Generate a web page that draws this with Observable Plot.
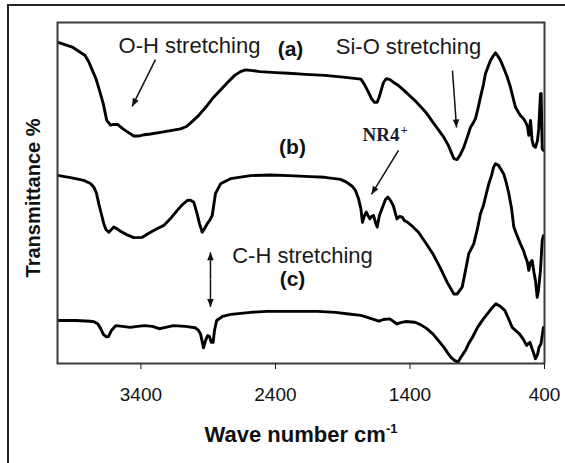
<!DOCTYPE html>
<html>
<head>
<meta charset="utf-8">
<script src="https://cdn.jsdelivr.net/npm/d3@7"></script>
<script src="https://cdn.jsdelivr.net/npm/@observablehq/plot@0.6"></script>
<style>
  html, body { margin: 0; padding: 0; background: #fff; overflow: hidden; }
  #wrap { position: relative; width: 565px; height: 463px; }
  #chart svg { position: absolute; left: 0; top: 0; }
  #box { position: absolute; left: 7px; top: 4px; width: 700px; height: 700px;
         border-left: 2px solid #222; border-top: 2px solid #222; pointer-events: none; }
</style>
</head>
<body>
<div id="wrap"><div id="chart"></div><div id="box"></div></div>
<script>
// FTIR spectra of three samples, offset vertically (arbitrary transmittance units)
const waveA = [4010,3910,3815,3787,3760,3734,3708,3680,3654,3626,3604,3574,3533,3492,3453,3418,3373,3329,3265,3180,3106,3061,3024,2972,2917,2868,2810,2756,2703,2660,2623,2571,2515,2400,2301,2177,2033,1879,1765,1738,1708,1685,1664,1644,1630,1618,1597,1577,1552,1524,1485,1444,1404,1363,1322,1283,1230,1195,1149,1114,1074,1049,1025,1000,972,950,928,913,891,876,854,839,816,801,779,764,749,727,705,677,653,638,616,593,579,556,541,526,517,504,492,482,467,452,443,430,425,417,408];
const transA = [94.1,92.8,90.3,88.4,85.9,83.5,80.1,76.2,71.3,69.9,70.1,70.1,68.8,67.7,66.7,66.7,67.1,67.3,67.7,68.3,68.8,69.5,70.8,72.7,75.2,77.7,80.1,82.4,84.5,85.6,86.1,85.9,85.6,85.3,85.1,84.8,84.5,83.9,83.4,81.8,79.5,77.6,76.6,76.6,78.0,79.6,82.4,83.5,83.3,82.5,81.5,80.1,78.6,77.1,75.4,73.7,70.8,68.9,66.4,63.9,60.1,59.8,61.3,63.4,66.6,69.3,70.7,71.8,75.4,78.1,81.8,85.0,87.4,88.9,90.3,91.1,90.3,88.9,86.8,84.0,81.0,78.6,75.2,73.6,72.7,71.8,70.8,69.5,66.9,71.3,65.4,63.9,63.4,65.4,68.8,79.1,79.2,63.0,62.5];

const waveB = [4010,3923,3825,3775,3750,3730,3713,3693,3676,3660,3639,3619,3602,3574,3552,3507,3453,3390,3329,3277,3230,3180,3130,3091,3056,3031,3007,2982,2965,2944,2927,2907,2890,2870,2846,2808,2734,2585,2437,2301,2140,2033,1917,1872,1827,1805,1783,1765,1753,1738,1725,1712,1698,1686,1671,1656,1644,1627,1604,1582,1564,1545,1524,1497,1478,1457,1441,1417,1381,1337,1285,1230,1173,1123,1074,1049,1012,987,963,926,898,876,854,839,814,794,779,764,742,703,683,665,645,628,601,579,556,541,526,517,504,492,478,467,454,445,430,417,408];
const transB = [55.1,54.5,53.7,52.8,51.7,49.9,46.8,43.7,41.0,39.3,38.5,39.3,40.0,39.4,38.8,37.8,36.9,37.0,38.5,39.6,40.5,42.5,44.9,46.6,47.8,47.9,47.3,43.9,41.1,38.5,39.6,41.0,41.9,43.4,49.8,52.7,54.2,55.1,55.3,55.1,54.8,54.6,54.0,53.2,51.9,50.7,48.4,45.4,41.4,43.4,44.4,43.4,42.4,43.1,43.4,41.3,40.0,43.4,45.8,48.1,48.8,47.8,46.3,42.4,43.1,42.9,41.9,41.4,40.2,38.5,35.5,32.2,27.9,23.8,20.4,20.4,22.4,27.3,32.2,35.1,39.6,43.9,46.3,48.8,52.7,55.1,57.5,58.6,58.1,55.6,52.8,49.8,45.5,40.0,37.2,35.1,33.1,31.2,29.6,27.3,29.6,30.2,26.7,24.3,19.4,21.4,27.3,36.1,37.5];

const waveC = [4010,3886,3775,3745,3720,3700,3678,3656,3641,3619,3587,3537,3480,3425,3373,3314,3265,3217,3158,3069,2997,2972,2957,2946,2935,2920,2904,2890,2877,2863,2853,2837,2794,2730,2585,2461,2288,2087,1954,1872,1765,1693,1631,1597,1551,1522,1497,1470,1433,1363,1322,1277,1230,1188,1149,1121,1095,1069,1042,1017,988,963,935,898,854,816,794,761,727,694,668,640,616,586,556,533,519,508,493,482,467,452,441,426,408];
const transC = [12.6,12.6,12.4,12.2,11.6,10.3,8.5,7.8,7.9,9.7,11.1,10.9,10.6,10.9,11.1,10.9,10.2,10.6,11.1,10.9,10.5,9.7,8.7,6.7,4.6,6.7,8.2,7.9,6.2,6.2,9.7,12.6,13.8,14.4,15.0,15.3,15.3,15.3,15.0,14.6,14.1,13.2,12.4,12.9,13.1,12.3,11.6,12.0,12.3,12.1,11.4,10.3,8.7,6.7,4.8,3.2,1.8,0.9,0.4,2.1,3.8,5.9,7.7,10.6,13.1,15.0,16.1,17.5,16.7,15.5,13.2,10.6,9.7,8.7,7.0,5.3,5.9,6.2,4.4,3.2,1.4,2.6,4.7,5.8,10.6];

const tickWaves = [3400, 2400, 1400, 400];

// Band labels and sample tags (wave number, transmittance)
const bandLabels = [
  {text: "O-H stretching", wave: 3039, trans: 93.0},
  {text: "Si-O stretching", wave: 1411, trans: 92.9},
  {text: "C-H stretching", wave: 2199, trans: 31.4}
];
const sampleTags = [
  {text: "(a)", wave: 2288, trans: 92.2},
  {text: "(b)", wave: 2273, trans: 63.5},
  {text: "(c)", wave: 2273, trans: 24.8}
];
const ammonium = [{text: "NR4", wave: 1753, trans: 66.9}];

// Pointer arrows from labels to bands
const pointers = [
  {w1: 3292, t1: 89.1, w2: 3465, t2: 75.4},
  {w1: 1084, t1: 85.9, w2: 1054, t2: 69.2},
  {w1: 1485, t1: 62.5, w2: 1686, t2: 49.6}
];
const chSpan = [{w1: 2883, t1: 24.6, w2: 2883, t2: 32.6}, {w1: 2883, t1: 24.6, w2: 2883, t2: 16.6}];

const rows = (w, t, id) => w.map((x, i) => ({wave: x, trans: t[i], sample: id}));
const spectra = [...rows(waveA, transA, "a"), ...rows(waveB, transB, "b"), ...rows(waveC, transC, "c")];

const sans = "'Liberation Sans', Arial, sans-serif";

const plot = Plot.plot({
  width: 565,
  height: 463,
  marginLeft: 57,
  marginRight: 21,
  marginTop: 22,
  marginBottom: 100,
  style: {fontFamily: sans, fontSize: "19px", color: "#111", background: "transparent"},
  x: {domain: [4020, 400], ticks: tickWaves, tickFormat: d => String(d), tickSize: 6, tickPadding: 18, label: null},
  y: {domain: [0, 100], axis: null},
  marks: [
    Plot.line(spectra, {x: "wave", y: "trans", z: "sample", stroke: "#000", strokeWidth: 2.9, strokeLinejoin: "round"}),
    Plot.link(pointers, {x1: "w1", y1: "t1", x2: "w2", y2: "t2", stroke: "#111", strokeWidth: 1.5, markerEnd: "arrow"}),
    Plot.link(chSpan, {x1: "w1", y1: "t1", x2: "w2", y2: "t2", stroke: "#111", strokeWidth: 1.5, markerEnd: "arrow"}),
    Plot.text(bandLabels, {x: "wave", y: "trans", text: "text", fontSize: 22, fontFamily: sans, fill: "#1a1a1a"}),
    Plot.text(sampleTags, {x: "wave", y: "trans", text: "text", fontSize: 21, fontWeight: "bold", fontFamily: sans, fill: "#111"}),
    Plot.text(ammonium, {x: "wave", y: "trans", text: "text", textAnchor: "start", fontSize: 19, fontWeight: "bold", fontFamily: "'Liberation Serif', 'Times New Roman', serif", fill: "#1c1c30"}),
    Plot.text(ammonium, {x: "wave", y: "trans", text: () => "+", textAnchor: "start", dx: 38, dy: -6, fontSize: 13, fontWeight: "bold", fontFamily: "'Liberation Serif', 'Times New Roman', serif", fill: "#1c1c30"}),
    Plot.frame({stroke: "#3a3a3a", strokeWidth: 2})
  ]
});

const svg = d3.select(plot);

// solid triangular arrowheads
svg.selectAll("marker")
  .attr("viewBox", "-10 -5 11 10")
  .attr("markerWidth", 7.3)
  .attr("markerHeight", 6.67)
  .attr("fill", "#111")
  .attr("stroke", "none")
  .style("overflow", "visible")
  .select("path")
  .attr("d", "M-8,-3.3L0,0L-8,3.3Z");

// axis titles
const xt = svg.append("text")
  .attr("x", 301).attr("y", 441.5)
  .attr("text-anchor", "middle")
  .attr("font-family", sans).attr("font-size", 22).attr("font-weight", "bold").attr("fill", "#111");
xt.append("tspan").text("Wave number cm");
xt.append("tspan").attr("dy", -9).attr("font-size", 13).text("-1");

svg.append("text")
  .attr("transform", "translate(39.5,198) rotate(-90)")
  .attr("text-anchor", "middle")
  .attr("font-family", sans).attr("font-size", 20).attr("font-weight", "bold").attr("fill", "#111")
  .text("Transmittance %");

document.getElementById("chart").append(plot);
</script>
</body>
</html>
